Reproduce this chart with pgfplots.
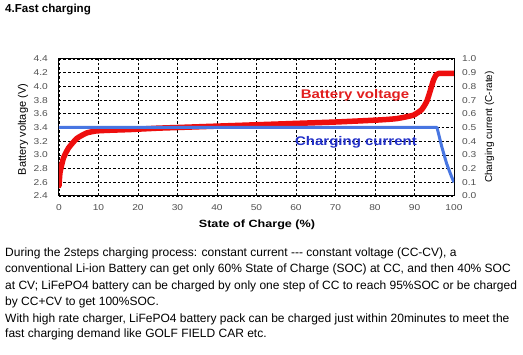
\documentclass[border=0pt]{standalone}
\usepackage{fontspec}
\setmainfont{Liberation Sans}
\usepackage{pgfplots}
\pgfplotsset{compat=1.18}
\definecolor{vred}{RGB}{238,14,14}
\definecolor{cblue}{RGB}{72,118,226}
\definecolor{lred}{RGB}{226,30,30}
\definecolor{lblue}{RGB}{32,46,200}
\definecolor{tickgray}{RGB}{80,80,80}
\begin{document}
\begin{tikzpicture}[x=1pt,y=1pt]
\useasboundingbox (0,0) rectangle (523,-355);
\fill[white] (0,0) rectangle (523,-355);
\node[anchor=base west,inner sep=0,font=\bfseries\fontsize{11.6}{14}\selectfont] at (5,-13) {4.Fast charging};

\begin{axis}[
  at={(59pt,-196pt)}, anchor=south west, scale only axis,
  width=395pt, height=137pt,
  xmin=0, xmax=100, ymin=2.4, ymax=4.4,
  xtick={0,10,20,30,40,50,60,70,80,90,100},
  ytick={2.4,2.6,2.8,3.0,3.2,3.4,3.6,3.8,4.0,4.2,4.4},
  grid=major, grid style={black, line width=0.7pt, dash pattern=on 2.5pt off 2pt},
  major tick length=0pt,
  axis line style={line width=1pt, black},
  tick label style={font=\fontsize{8.5}{10}\selectfont, text=tickgray},
  /pgf/number format/assume math mode=true,
  xticklabel style={yshift=-5pt, xscale=1.2},
  yticklabel style={xshift=-7pt, xscale=1.2, /pgf/number format/.cd, fixed, fixed zerofill, precision=1},
]
\addplot[vred, line width=5.5pt, line cap=round, line join=round, smooth, tension=0.3] coordinates {
(0,2.55) (0.25,2.74) (1.1,2.95) (2.4,3.10) (4.5,3.24) (7,3.32) (9.5,3.35) (13,3.36) (18,3.37)
(25,3.39) (30,3.40) (40,3.42) (50,3.44) (60,3.46) (70,3.48) (81,3.51) (85.5,3.53) (89.7,3.58)
(91.8,3.66) (93.1,3.78) (93.9,3.92) (94.8,4.09) (95.5,4.17) (96.2,4.19) (100,4.19)
};
\end{axis}

\begin{axis}[
  at={(59pt,-196pt)}, anchor=south west, scale only axis,
  width=395pt, height=137pt,
  xmin=0, xmax=100, ymin=0, ymax=1,
  axis x line=none, axis y line*=right,
  ytick={0,0.1,0.2,0.3,0.4,0.5,0.6,0.7,0.8,0.9,1.0},
  major tick length=0pt,
  axis line style={line width=1pt, black},
  tick label style={font=\fontsize{8.5}{10}\selectfont, text=tickgray},
  /pgf/number format/assume math mode=true,
  yticklabel style={xshift=4pt, xscale=1.2, /pgf/number format/.cd, fixed, fixed zerofill, precision=1},
]
\addplot[cblue, line width=3pt, line join=round] coordinates {
(0,0.5) (50,0.5) (95.7,0.5) (96.3,0.43) (96.9,0.36) (97.5,0.30) (98.1,0.24) (98.8,0.185) (99.4,0.14) (100,0.1)
};
\end{axis}

\node[anchor=base, inner sep=0, xscale=1.2, text=lred, font=\bfseries\fontsize{12.5}{14}\selectfont] at (355,-99) {Battery voltage};
\node[anchor=base, inner sep=0, xscale=1.2, text=lblue, font=\bfseries\fontsize{12.5}{14}\selectfont] at (356,-146) {Charging current};

\node[anchor=base, inner sep=0, xscale=1.2, font=\bfseries\fontsize{10.5}{12}\selectfont] at (257,-228) {State of Charge (\%)};
\node[rotate=90, inner sep=0, font=\fontsize{11}{12}\selectfont] at (23,-129.5) {Battery voltage (V)};
\node[rotate=90, inner sep=0, font=\fontsize{10}{12}\selectfont] at (489.5,-127) {Charging current (C-rate)};

\begin{scope}[every node/.style={anchor=base west, inner sep=0, font=\fontsize{12}{14}\selectfont}]
\node at (5,-257) {During the 2steps charging process: constant current {-}{-}{-} constant voltage (CC-CV), a};
\node at (5,-273) {conventional Li-ion Battery can get only 60\% State of Charge (SOC) at CC, and then 40\% SOC};
\node at (5,-290) {at CV; LiFePO4 battery can be charged by only one step of CC to reach 95\%SOC or be charged};
\node at (5,-306) {by CC+CV to get 100\%SOC.};
\node at (5,-323) {With high rate charger, LiFePO4 battery pack can be charged just within 20minutes to meet the};
\node at (5,-338) {fast charging demand like GOLF FIELD CAR etc.};
\end{scope}
\end{tikzpicture}
\end{document}
